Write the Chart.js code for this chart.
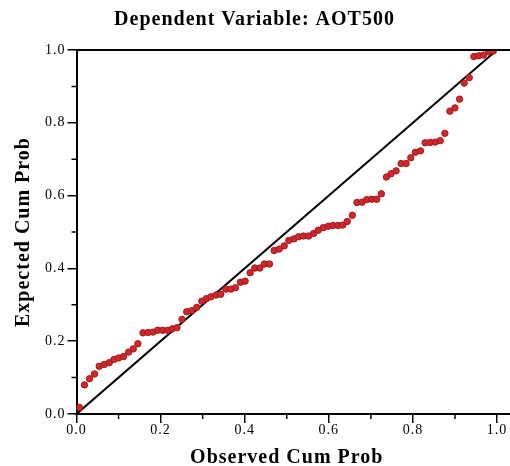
<!DOCTYPE html>
<html lang="en">
  <head>
    <meta charset="UTF-8" />
    <title>P-P Plot - AOT500</title>
    <script src="https://cdn.jsdelivr.net/npm/chart.js"></script>
    <style>
      html, body {
        margin: 0;
        padding: 0;
        background-color: #fff;
      }
      .chart-box {
        width: 510px;
        height: 466px;
      }
    </style>
  </head>
  <body>
    <div class="chart-box">
      <canvas id="ppChart"></canvas>
    </div>

    <script>
      // Observed cumulative probability (x) and expected cumulative probability (y)
      const observedCumProb = [
        0.007, 0.019, 0.031, 0.043, 0.054, 0.066, 0.078, 0.089, 0.100, 0.112, 0.124, 0.135, 0.146, 0.158, 0.170, 0.182, 0.193, 0.205, 0.217, 0.228, 0.239,
        0.251, 0.262, 0.274, 0.286, 0.298, 0.309, 0.320, 0.332, 0.343, 0.355, 0.367, 0.378, 0.390, 0.401, 0.413, 0.424, 0.436, 0.447, 0.459, 0.470, 0.482, 0.494, 0.505, 0.517, 0.528, 0.540, 0.552, 0.564, 0.575,
        0.587, 0.599, 0.610, 0.622, 0.633, 0.644, 0.656, 0.667, 0.679, 0.690, 0.702, 0.714, 0.725, 0.737, 0.748, 0.760, 0.772, 0.784, 0.795, 0.806, 0.818, 0.829, 0.841, 0.853, 0.865, 0.876,
        0.888, 0.900, 0.911, 0.922, 0.934, 0.945, 0.957, 0.968, 0.980, 0.991
      ];
      const expectedCumProb = [
        0.018, 0.080, 0.097, 0.110, 0.131, 0.136, 0.141, 0.150, 0.154, 0.158, 0.170, 0.179, 0.193, 0.223, 0.224, 0.225, 0.230, 0.230, 0.230, 0.234, 0.237,
        0.260, 0.281, 0.284, 0.293, 0.310, 0.317, 0.322, 0.327, 0.329, 0.343, 0.343, 0.347, 0.362, 0.365, 0.388, 0.401, 0.401, 0.412, 0.412, 0.449, 0.453, 0.462, 0.477, 0.481, 0.487, 0.489, 0.489, 0.496, 0.505,
        0.512, 0.516, 0.518, 0.518, 0.519, 0.529, 0.546, 0.581, 0.582, 0.589, 0.590, 0.590, 0.605, 0.651, 0.660, 0.668, 0.688, 0.688, 0.704, 0.719, 0.723, 0.745, 0.746, 0.747, 0.751, 0.771,
        0.832, 0.841, 0.865, 0.909, 0.924, 0.982, 0.984, 0.986, 0.995, 0.997
      ];
      // Reference diagonal
      const refX = [0, 1];
      const refY = [0, 1];
      const majorTicks = [0, 0.2, 0.4, 0.6, 0.8, 1.0];
      const minorTicks = [0.1, 0.3, 0.5, 0.7, 0.9];

      const serif = "'Liberation Serif', 'DejaVu Serif', serif";

      // the original text is a bit spaced out
      const spacingPlugin = {
        id: "spacing",
        beforeLayout(chart) {
          chart.ctx.letterSpacing = "1px";
        },
        beforeDraw(chart) {
          chart.ctx.letterSpacing = "1px";
        },
      };

      // top/bottom frame lines run to the canvas edge, plus short minor ticks
      const framePlugin = {
        id: "frame",
        afterDraw(chart) {
          const { ctx, chartArea, scales } = chart;
          ctx.save();
          ctx.strokeStyle = "#000";
          ctx.lineWidth = 2;
          ctx.beginPath();
          ctx.moveTo(chartArea.left - 1, chartArea.top);
          ctx.lineTo(chart.width, chartArea.top);
          ctx.moveTo(chartArea.left - 1, chartArea.bottom);
          ctx.lineTo(chart.width, chartArea.bottom);
          ctx.stroke();

          ctx.lineWidth = 1.5;
          ctx.beginPath();
          minorTicks.forEach((v) => {
            const px = scales.x.getPixelForValue(v);
            ctx.moveTo(px, chartArea.bottom);
            ctx.lineTo(px, chartArea.bottom + 5);
            const py = scales.y.getPixelForValue(v);
            ctx.moveTo(chartArea.left, py);
            ctx.lineTo(chartArea.left - 5, py);
          });
          ctx.stroke();
          ctx.restore();
        },
      };

      const tickFont = { family: serif, size: 14, lineHeight: 1 };
      const labelFmt = (v) => Number(v).toFixed(1);

      new Chart(document.getElementById("ppChart"), {
        type: "scatter",
        data: {
          datasets: [
            {
              label: "Observed",
              data: observedCumProb.map((x, i) => ({ x: x, y: expectedCumProb[i] })),
              backgroundColor: "#d3262b",
              borderColor: "#9e1a1e",
              borderWidth: 1,
              pointRadius: 3.2,
            },
            {
              label: "Reference",
              type: "line",
              data: refX.map((x, i) => ({ x: x, y: refY[i] })),
              borderColor: "#000",
              borderWidth: 2,
              pointRadius: 0,
              fill: false,
            },
          ],
        },
        plugins: [spacingPlugin, framePlugin],
        options: {
          responsive: true,
          maintainAspectRatio: false,
          animation: false,
          layout: { padding: { left: 12, right: 13, top: 0, bottom: -2 } },
          plugins: {
            legend: { display: false },
            tooltip: { enabled: false },
            title: {
              display: true,
              text: "Dependent Variable: AOT500",
              color: "#000",
              font: { family: serif, size: 20, weight: "bold", lineHeight: 1.2 },
              padding: { top: 8, bottom: 18 },
            },
          },
          scales: {
            x: {
              type: "linear",
              min: 0,
              max: 1,
              afterBuildTicks: (scale) => {
                scale.ticks = majorTicks.map((v) => ({ value: v }));
              },
              ticks: { color: "#000", font: tickFont, padding: 0, callback: labelFmt },
              grid: { drawOnChartArea: false, drawTicks: true, tickLength: 9, color: "#000", lineWidth: 1.5 },
              border: { display: false },
              title: {
                display: true,
                text: "Observed Cum Prob",
                color: "#000",
                font: { family: serif, size: 20, weight: "bold", lineHeight: 1 },
                padding: { top: 11, bottom: 0 },
              },
            },
            y: {
              type: "linear",
              min: 0,
              max: 1,
              afterBuildTicks: (scale) => {
                scale.ticks = majorTicks.map((v) => ({ value: v }));
              },
              ticks: { color: "#000", font: tickFont, padding: 2, callback: labelFmt },
              grid: { drawOnChartArea: false, drawTicks: true, tickLength: 9, color: "#000", lineWidth: 1.5 },
              border: { display: true, color: "#000", width: 2 },
              title: {
                display: true,
                text: "Expected Cum Prob",
                color: "#000",
                font: { family: serif, size: 20, weight: "bold", lineHeight: 1.2 },
                padding: { top: 0, bottom: 7 },
              },
            },
          },
        },
      });
    </script>
  </body>
</html>
